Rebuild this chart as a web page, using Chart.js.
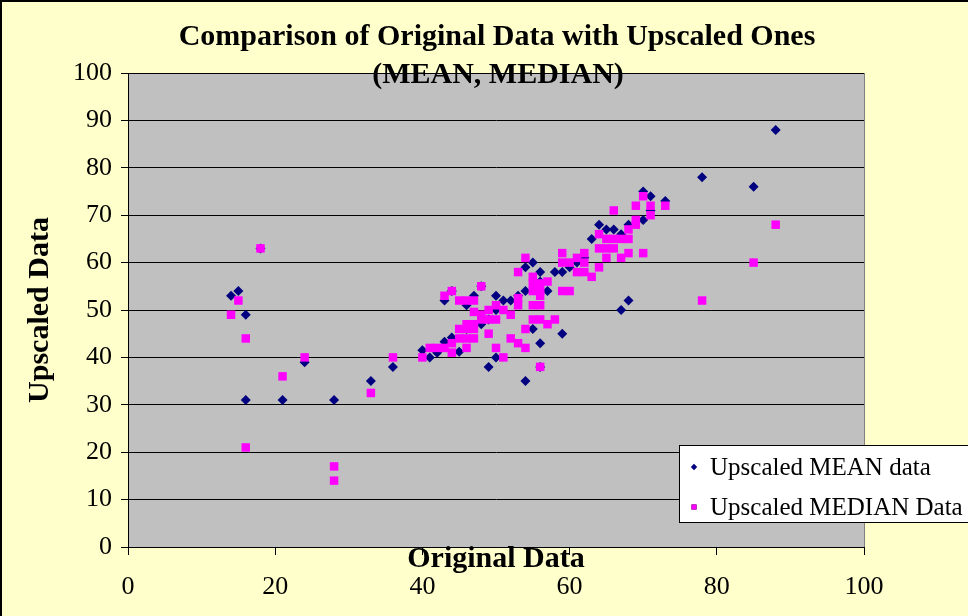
<!DOCTYPE html>
<html>
<head>
<meta charset="utf-8">
<script src="https://cdn.jsdelivr.net/npm/chart.js@4.4.0/dist/chart.umd.min.js"></script>
<style>
  html, body { margin: 0; padding: 0; background: #FFFFCC; }
  #wrap { width: 968px; height: 616px; }
</style>
</head>
<body>
<div id="wrap"><canvas id="chart" width="968" height="616"></canvas></div>
<script>
const titleLines = ['Comparison of Original Data with Upscaled Ones', '(MEAN, MEDIAN)'];
const xAxisTitle = 'Original Data';
const yAxisTitle = 'Upscaled Data';
const seriesLabels = ['Upscaled MEAN data', 'Upscaled MEDIAN Data'];
const xTicks = [0, 20, 40, 60, 80, 100];
const yTicks = [0, 10, 20, 30, 40, 50, 60, 70, 80, 90, 100];

// [original, upscaled]
const meanPoints = [
  [14, 53], [15, 54], [16, 49], [16, 31], [18, 63], [21, 31], [24, 39], [28, 31], [33, 35], [36, 38],
  [40, 41.5], [41, 40], [42, 41], [43, 43.3], [43, 52], [44, 44.2], [44, 54], [45, 41.2], [46, 46],
  [46, 51], [47, 53], [48, 55], [48, 47], [49, 48], [49, 38], [50, 40], [50, 50], [50, 53], [51, 52],
  [52, 52], [53, 53], [54, 54], [54, 35], [54, 59], [55, 60], [55, 46], [56, 58], [56, 56], [56, 43],
  [56, 38], [57, 54], [58, 58], [59, 58], [59, 45], [60, 59], [61, 60], [62, 61], [63, 65], [64, 68],
  [65, 67], [66, 67], [67, 66], [67, 50], [68, 68], [68, 52], [70, 69], [70, 75], [71, 74], [71, 71],
  [73, 73], [78, 78], [85, 76], [88, 88]
];
const medianPoints = [
  [14, 49], [15, 52], [16, 44], [16, 21], [18, 63], [21, 36], [24, 40], [28, 17], [28, 14], [33, 32.5],
  [36, 40], [40, 40], [41, 42], [42, 42], [43, 42], [44, 41], [44, 43], [43, 53], [44, 54], [45, 52],
  [46, 52], [47, 52], [45, 46], [46, 46], [47, 46], [45, 44], [46, 44], [47, 44], [46, 47], [47, 47],
  [46, 42], [47, 49.6], [48, 49], [48, 55], [49, 50], [49, 45], [48, 48], [49, 48], [50, 51], [50, 48],
  [51, 50], [52, 49], [50, 42], [51, 40], [52, 44], [53, 43], [54, 42], [54, 46], [53, 52.5], [53, 51],
  [53, 58], [54, 61], [55, 57], [55, 55.6], [55, 54], [56, 55.6], [56, 54], [56, 53], [55, 51], [56, 51],
  [55, 48], [56, 48], [57, 47], [58, 48], [57, 56], [56, 38], [59, 62], [59, 60], [60, 60], [61, 61],
  [62, 62], [62, 60], [61, 58], [62, 58], [59, 54], [60, 54], [63, 57], [64, 59], [64, 63], [65, 63],
  [66, 63], [65, 61], [64, 66], [65, 65], [66, 65], [67, 65], [67, 61], [68, 62], [68, 65], [68, 67],
  [69, 68], [69, 69], [66, 71], [69, 72], [70, 74], [71, 72], [71, 70], [73, 72], [70, 62], [78, 52],
  [85, 60], [88, 68]
];

const serif = '"Liberation Serif", "Times New Roman", serif';
const toXY = (pts) => pts.map(([x, y]) => ({ x, y }));

const decorations = {
  id: 'decorations',
  beforeDraw(chart) {
    const { ctx, chartArea: a, width, height } = chart;
    ctx.save();
    ctx.fillStyle = '#FFFFCC';
    ctx.fillRect(0, 0, width, height);
    ctx.fillStyle = '#C0C0C0';
    ctx.fillRect(a.left, a.top, a.right - a.left, a.bottom - a.top);
    ctx.strokeStyle = '#808080';
    ctx.lineWidth = 1;
    ctx.strokeRect(a.left + 0.5, a.top + 0.5, a.right - a.left, a.bottom - a.top);
    // outer frame (top/left visible)
    ctx.strokeStyle = '#000';
    ctx.lineWidth = 2;
    ctx.beginPath();
    ctx.moveTo(1, height);
    ctx.lineTo(1, 1);
    ctx.lineTo(width, 1);
    ctx.stroke();
    ctx.restore();
  },
  afterDraw(chart) {
    const { ctx, chartArea: a } = chart;
    const cx = (a.left + a.right) / 2;
    ctx.save();
    ctx.fillStyle = '#000';
    ctx.textAlign = 'center';
    ctx.textBaseline = 'middle';
    ctx.font = 'bold 30px ' + serif;
    ctx.fillText(titleLines[0], cx + 1, 37);
    ctx.fillText(titleLines[1], cx + 2, 75);
    ctx.fillText(xAxisTitle, cx, a.bottom + 12);
    ctx.save();
    ctx.translate(40, (a.top + a.bottom) / 2);
    ctx.rotate(-Math.PI / 2);
    ctx.fillText(yAxisTitle, 0, 0);
    ctx.restore();

    // legend box
    const lx = 679, ly = 445;
    ctx.fillStyle = '#fff';
    ctx.fillRect(lx, ly, 300, 77);
    ctx.strokeStyle = '#000';
    ctx.lineWidth = 1;
    ctx.strokeRect(lx + 0.5, ly + 0.5, 300, 77);
    ctx.font = '25px ' + serif;
    ctx.textAlign = 'left';
    chart.data.datasets.forEach((ds, i) => {
      const y = ly + 22 + i * 40;
      Chart.helpers.drawPoint(ctx, {
        pointStyle: ds.pointStyle,
        radius: ds.pointStyle === 'rect' ? 3.6 : 3.2,
        borderWidth: 0
      }, lx + 15, y);
      ctx.fillStyle = ds.backgroundColor;
      ctx.fill();
      ctx.fillStyle = '#000';
      ctx.fillText(ds.label, lx + 31, y + 1);
    });
    ctx.restore();
  }
};

new Chart(document.getElementById('chart').getContext('2d'), {
  type: 'scatter',
  data: {
    datasets: [
      {
        label: seriesLabels[0],
        data: toXY(meanPoints),
        pointStyle: 'rectRot',
        pointRadius: 5,
        backgroundColor: '#000080',
        borderColor: '#000080',
        borderWidth: 0,
        order: 1
      },
      {
        label: seriesLabels[1],
        data: toXY(medianPoints),
        pointStyle: 'rect',
        pointRadius: 6,
        backgroundColor: '#FF00FF',
        borderColor: '#FF00FF',
        borderWidth: 0,
        order: 0
      }
    ]
  },
  options: {
    responsive: false,
    animation: false,
    layout: { padding: { top: 73, right: 104, left: 0, bottom: 0 } },
    plugins: {
      legend: { display: false },
      title: { display: false },
      tooltip: { enabled: false }
    },
    scales: {
      x: {
        type: 'linear',
        min: 0,
        max: 100,
        afterBuildTicks: (s) => { s.ticks = xTicks.map((v) => ({ value: v })); },
        afterFit: (s) => { s.height = 69; },
        ticks: { color: '#000', font: { family: serif, size: 26 }, padding: 17 },
        grid: { drawOnChartArea: false, tickLength: 8, color: '#000' },
        border: { color: '#000', width: 1 }
      },
      y: {
        min: 0,
        max: 100,
        afterBuildTicks: (s) => { s.ticks = yTicks.map((v) => ({ value: v })); },
        afterFit: (s) => { s.width = 128; },
        ticks: { color: '#000', font: { family: serif, size: 26 }, padding: 9 },
        grid: { color: '#000', tickLength: 7 },
        border: { color: '#000', width: 1 }
      }
    }
  },
  plugins: [decorations]
});
</script>
</body>
</html>
